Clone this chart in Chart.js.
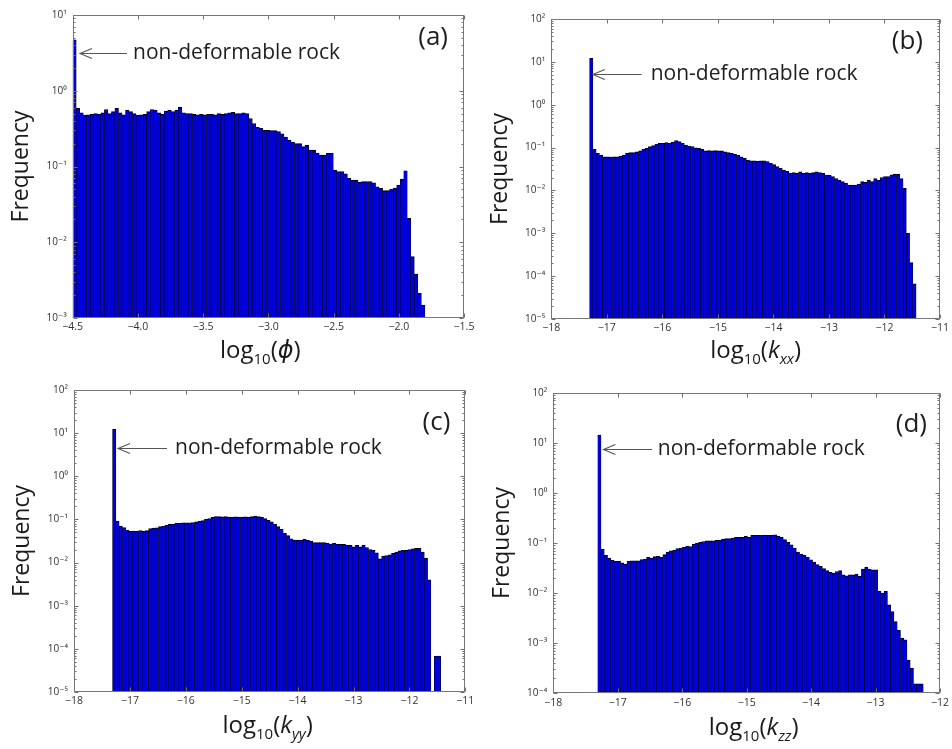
<!DOCTYPE html>
<html><head><meta charset="utf-8">
<script src="https://cdn.jsdelivr.net/npm/chart.js@4/dist/chart.umd.min.js"></script>
<style>
html,body{margin:0;padding:0;background:#fff;}
#wrap{position:relative;width:952px;height:749px;overflow:hidden;background:#fff;}
canvas{position:absolute;left:0;top:0;width:952px;height:749px;}
</style></head><body><div id="wrap">
<canvas id="pa" width="952" height="749"></canvas>
<canvas id="pb" width="952" height="749"></canvas>
<canvas id="pc" width="952" height="749"></canvas>
<canvas id="pd" width="952" height="749"></canvas>
</div>
<script>
// ---------------- data (histogram frequencies, 100 bins each) ----------------
const phiFreq = [4.7,0.586,0.513,0.479,0.48,0.49,0.50,0.49,0.51,0.565,
  0.50,0.53,0.586,0.51,0.48,0.557,0.53,0.50,0.475,0.48,
  0.49,0.53,0.565,0.557,0.51,0.49,0.54,0.557,0.53,0.557,
  0.61,0.51,0.50,0.50,0.49,0.48,0.49,0.48,0.49,0.49,
  0.48,0.50,0.49,0.50,0.51,0.52,0.50,0.50,0.51,0.50,
  0.43,0.37,0.33,0.32,0.30,0.30,0.297,0.297,0.29,0.27,
  0.245,0.224,0.21,0.20,0.20,0.183,0.192,0.165,0.165,0.15,
  0.142,0.142,0.149,0.149,0.09,0.086,0.086,0.08,0.07,0.066,
  0.066,0.062,0.063,0.063,0.063,0.061,0.054,0.0515,0.048,0.048,
  0.05,0.052,0.057,0.068,0.088,0.0207,0.00645,0.0038,0.00212,0.00148];
const kxxFreq = [12.1,0.091,0.0735,0.067,0.061,0.061,0.060,0.061,0.061,0.063,
  0.067,0.0735,0.076,0.076,0.080,0.084,0.091,0.096,0.105,0.111,
  0.121,0.126,0.126,0.13,0.126,0.135,0.145,0.138,0.126,0.115,
  0.109,0.105,0.099,0.096,0.091,0.0845,0.085,0.0845,0.085,0.0845,
  0.084,0.080,0.076,0.0735,0.0708,0.067,0.061,0.056,0.051,0.049,
  0.049,0.048,0.049,0.049,0.047,0.043,0.040,0.0358,0.033,0.030,
  0.028,0.025,0.026,0.025,0.027,0.025,0.026,0.025,0.026,0.027,
  0.026,0.025,0.0229,0.0229,0.021,0.019,0.0175,0.016,0.0148,0.0134,
  0.0134,0.0134,0.014,0.016,0.0155,0.0175,0.016,0.019,0.0175,0.020,
  0.021,0.021,0.023,0.024,0.024,0.019,0.0112,0.001,0.000206,0.000066];
const kyyFreq = [12.2,0.092,0.0705,0.0645,0.057,0.053,0.054,0.054,0.055,0.054,
  0.055,0.061,0.063,0.064,0.068,0.0705,0.074,0.078,0.078,0.081,
  0.081,0.083,0.083,0.083,0.085,0.088,0.090,0.094,0.1007,0.104,
  0.112,0.116,0.116,0.115,0.116,0.114,0.113,0.115,0.114,0.113,
  0.115,0.112,0.116,0.12,0.116,0.112,0.104,0.095,0.088,0.077,
  0.068,0.059,0.0475,0.042,0.0356,0.0332,0.0332,0.0332,0.0345,0.0332,
  0.0316,0.0289,0.029,0.029,0.029,0.0278,0.0268,0.0278,0.0268,0.0265,
  0.0265,0.025,0.025,0.0233,0.025,0.0233,0.0255,0.0222,0.0201,0.0193,
  0.0168,0.0122,0.0141,0.0146,0.0152,0.0163,0.0175,0.0187,0.0193,0.0193,
  0.0201,0.0207,0.0215,0.0215,0.0175,0.0126,0.004,null,0.000068,0.000068];
const kzzFreq = [14.2,0.076,0.0567,0.050,0.045,0.043,0.043,0.0404,0.038,0.043,
  0.044,0.044,0.044,0.0467,0.048,0.0515,0.050,0.0533,0.054,0.052,
  0.0585,0.066,0.070,0.072,0.077,0.0795,0.082,0.0867,0.085,0.0945,
  0.10,0.1035,0.107,0.11,0.11,0.11,0.113,0.115,0.12,0.122,
  0.122,0.126,0.13,0.13,0.13,0.1365,0.13,0.142,0.142,0.143,
  0.142,0.144,0.142,0.143,0.145,0.137,0.13,0.117,0.1035,0.092,
  0.0795,0.066,0.060,0.0567,0.0515,0.0464,0.0417,0.0369,0.0342,0.0307,
  0.028,0.026,0.025,0.027,0.028,0.0232,0.022,0.0232,0.0232,0.024,
  0.0215,0.030,0.033,0.030,0.029,0.029,0.0108,0.010,0.0108,0.0058,
  0.0043,0.0027,0.0018,0.00126,0.00117,0.00046,0.00032,0.000154,0.000154,0.000154];

// histogram bin edges: first edge and bin width
const phiBins = {start: -4.5, width: 0.027};
const kxxBins = {start: -17.31, width: 0.0588};
const kyyBins = {start: -17.31, width: 0.0587};
const kzzBins = {start: -17.31, width: 0.0505};

// tick values
const phiXTicks = [-4.5, -4.0, -3.5, -3.0, -2.5, -2.0, -1.5];
const kXTicks = [-18, -17, -16, -15, -14, -13, -12, -11];
const kzzXTicks = [-18, -17, -16, -15, -14, -13, -12];
const phiYExp = [-3, -2, -1, 0, 1];
const kYExp = [-5, -4, -3, -2, -1, 0, 1, 2];
const kzzYExp = [-4, -3, -2, -1, 0, 1, 2];

const annText = 'non-deformable rock';

// ---------------- rendering ----------------
const FONT = "'Open Sans', 'DejaVu Sans', sans-serif";
Chart.defaults.font.family = FONT;
const SUP = {'-':'\u207B','0':'\u2070','1':'\u00B9','2':'\u00B2','3':'\u00B3','4':'\u2074','5':'\u2075','6':'\u2076','7':'\u2077','8':'\u2078','9':'\u2079'};
function supLabel(v){
  const e = Math.round(Math.log10(v));
  return '10' + String(e).split('').map(c => SUP[c]).join('');
}
const minus = s => s.replace('-', '\u2212');

const YW = 70, XH = 50;

function makePanel(id, freq, bins, xTicks, yExp, xDec, titleParts, letter, L, ann) {
  const pts = freq.map((v, i) => ({x: bins.start + bins.width * (i + 0.5), y: v}));
  const deco = {
    id: 'deco_' + id,
    afterDraw(chart) {
      const {ctx, chartArea: a, scales: {x, y}} = chart;
      ctx.save();
      ctx.strokeStyle = '#707070'; ctx.lineWidth = 1;
      ctx.beginPath();
      const left = Math.round(a.left) + 0.5, right = Math.round(a.right) - 0.5;
      const top = Math.round(a.top) + 0.5, bottom = Math.round(a.bottom) - 0.5;
      yExp.forEach((e, k) => {
        const py = Math.round(y.getPixelForValue(Math.pow(10, e))) + 0.5;
        ctx.moveTo(left, py); ctx.lineTo(left + 4, py);
        ctx.moveTo(right, py); ctx.lineTo(right - 4, py);
        if (k < yExp.length - 1) {
          for (let m = 2; m <= 9; m++) {
            const pm = Math.round(y.getPixelForValue(m * Math.pow(10, e))) + 0.5;
            ctx.moveTo(left, pm); ctx.lineTo(left + 2, pm);
            ctx.moveTo(right, pm); ctx.lineTo(right - 2, pm);
          }
        }
      });
      xTicks.forEach(v => {
        const px = Math.round(x.getPixelForValue(v)) + 0.5;
        ctx.moveTo(px, bottom); ctx.lineTo(px, bottom - 4);
        ctx.moveTo(px, top); ctx.lineTo(px, top + 4);
      });
      ctx.stroke();
      ctx.strokeStyle = '#777';
      ctx.strokeRect(left, top, right - left, bottom - top);

      let w = 0;
      const measured = titleParts.map(p => {
        const size = p.sub ? 15 : 24;
        const f = (p.it ? 'italic ' : '') + size + 'px ' + FONT;
        ctx.font = f;
        const mw = ctx.measureText(p.t).width;
        w += mw;
        return {p, f, mw};
      });
      let cx = (a.left + a.right) / 2 + L.titleDx - w / 2;
      const base = a.bottom + L.titleDy;
      ctx.fillStyle = '#1a1a1a'; ctx.textBaseline = 'alphabetic'; ctx.textAlign = 'left';
      measured.forEach(m => {
        ctx.font = m.f;
        ctx.fillText(m.p.t, cx, base + (m.p.sub ? 6 : 0));
        cx += m.mw;
      });

      const tipX = x.getPixelForValue(ann.tipX), ay = Math.round(y.getPixelForValue(ann.y)) + 0.5;
      const tailX = x.getPixelForValue(ann.tailX);
      ctx.strokeStyle = '#555'; ctx.lineWidth = 1.1;
      ctx.beginPath();
      ctx.moveTo(tailX, ay); ctx.lineTo(tipX, ay);
      ctx.moveTo(tipX + 12, ay - 5); ctx.lineTo(tipX, ay); ctx.lineTo(tipX + 12, ay + 5);
      ctx.stroke();
      ctx.font = '21px ' + FONT; ctx.fillStyle = '#1e1e1e'; ctx.textBaseline = 'middle';
      ctx.fillText(annText, x.getPixelForValue(ann.textX), ay);

      ctx.font = '26px ' + FONT; ctx.textAlign = 'right';
      ctx.fillText(letter, a.right - L.labelDx, a.top + L.labelDy);
      ctx.restore();
    }
  };
  return new Chart(document.getElementById(id), {
    type: 'bar',
    data: {datasets: [{
      data: pts,
      backgroundColor: '#0000dc',
      borderColor: '#000010',
      borderWidth: {top: 1, left: 0.6, right: 0.6, bottom: 0},
      barPercentage: 1, categoryPercentage: 1
    }]},
    options: {
      responsive: false, animation: false, devicePixelRatio: 1, events: [],
      layout: {padding: {left: L.l - YW, top: L.t, right: 952 - L.r, bottom: 749 - L.b - XH}},
      plugins: {legend: {display: false}, tooltip: {enabled: false}},
      scales: {
        x: {
          type: 'linear', min: xTicks[0], max: xTicks[xTicks.length - 1], offset: false,
          afterBuildTicks: s => { s.ticks = xTicks.map(v => ({value: v})); },
          afterFit: s => { s.height = XH; },
          grid: {display: false, drawTicks: false, offset: false},
          border: {display: false},
          ticks: {padding: 3, color: '#333', font: {size: 10.5}, autoSkip: false, maxRotation: 0,
                  callback: v => minus(Number(v).toFixed(xDec))}
        },
        y: {
          type: 'logarithmic', min: Math.pow(10, yExp[0]), max: Math.pow(10, yExp[yExp.length - 1]),
          afterBuildTicks: s => { s.ticks = yExp.map(e => ({value: Math.pow(10, e)})); },
          afterFit: s => { s.width = YW; },
          grid: {display: false, drawTicks: false},
          border: {display: false},
          ticks: {padding: 6, color: '#333', font: {size: 10}, autoSkip: false, callback: v => supLabel(v)},
          title: {display: true, text: 'Frequency', color: '#1a1a1a', font: {size: 23}, padding: {top: 5, bottom: 0}}
        }
      }
    },
    plugins: [deco]
  });
}

const phiTitle = [{t: 'log'}, {t: '10', sub: true}, {t: '('}, {t: '\u03D5', it: true}, {t: ')'}];
const kTitle = s => [{t: 'log'}, {t: '10', sub: true}, {t: '('}, {t: 'k', it: true}, {t: s, it: true, sub: true}, {t: ')'}];

makePanel('pa', phiFreq, phiBins, phiXTicks, phiYExp, 1, phiTitle, '(a)',
  {l: 72.7, t: 15, r: 464, b: 318, titleDx: -8, titleDy: 40, labelDx: 16, labelDy: 23},
  {tipX: -4.444, tailX: -4.084, textX: -4.037, y: 3.15});
makePanel('pb', kxxFreq, kxxBins, kXTicks, kYExp, 0, kTitle('xx'), '(b)',
  {l: 551.3, t: 19, r: 941.7, b: 319, titleDx: 10, titleDy: 39, labelDx: 17, labelDy: 23},
  {tipX: -17.252, tailX: -16.374, textX: -16.21, y: 5.2});
makePanel('pc', kyyFreq, kyyBins, kXTicks, kYExp, 0, kTitle('yy'), '(c)',
  {l: 74, t: 390, r: 465.3, b: 692, titleDx: -2, titleDy: 41, labelDx: 15, labelDy: 33},
  {tipX: -17.213, tailX: -16.336, textX: -16.193, y: 4.5});
makePanel('pd', kzzFreq, kzzBins, kzzXTicks, kzzYExp, 0, kTitle('zz'), '(d)',
  {l: 553.3, t: 392.7, r: 944.3, b: 693.3, titleDx: 7, titleDy: 42, labelDx: 13, labelDy: 32},
  {tipX: -17.222, tailX: -16.47, textX: -16.378, y: 7.5});
</script>
</body></html>
